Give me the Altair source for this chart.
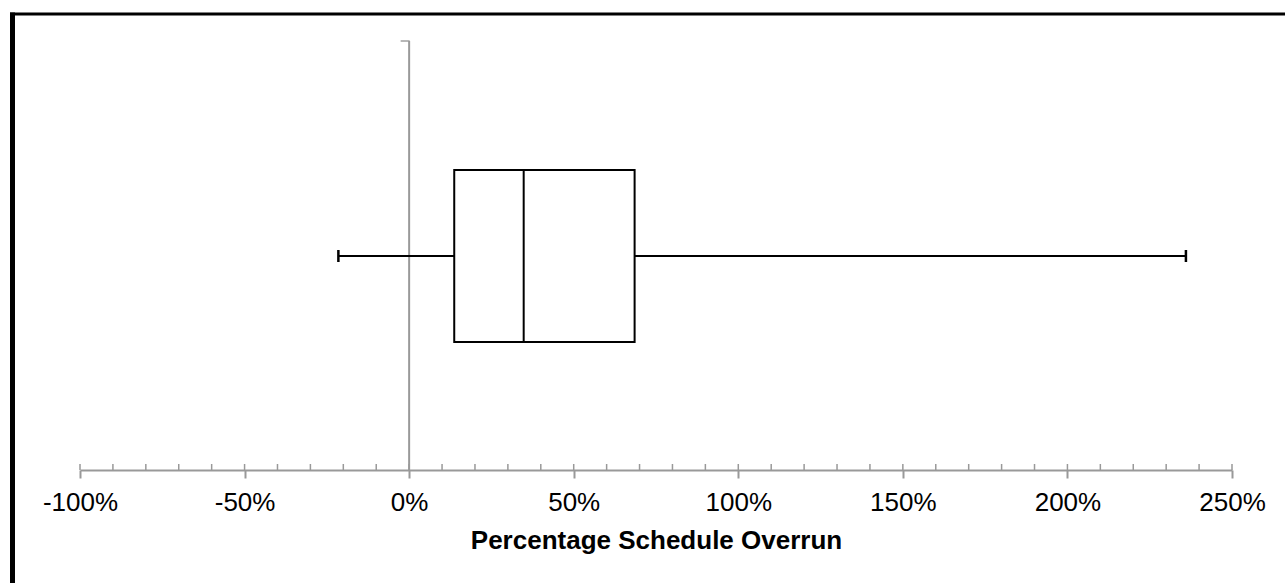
import altair as alt
import pandas as pd

# Box-plot statistics (fractions of schedule overrun)
whisker_low = [-0.215]
q1 = [0.137]
median = [0.348]
q3 = [0.685]
whisker_high = [2.36]

major_ticks = [-1.0, -0.5, 0.0, 0.5, 1.0, 1.5, 2.0, 2.5]
minor_ticks = [v / 100 for v in range(-100, 260, 10)]

stats = pd.DataFrame({"wlo": whisker_low, "q1": q1, "med": median, "q3": q3, "whi": whisker_high})
ticks_df = pd.DataFrame({"t": minor_ticks})

W, H = 1152, 429
GREY = "#999999"

xscale = alt.Scale(domain=[-1.0, 2.5], nice=False, zero=False)
xaxis = alt.Axis(
    values=major_ticks,
    labelExpr="round(datum.value*100) + '%'",
    labelFlush=False,
    labelOverlap=False,
    title="Percentage Schedule Overrun",
    grid=False,
    domainColor=GREY, domainWidth=2,
    tickColor=GREY, tickWidth=2, tickSize=8,
    labelFont="Liberation Sans", labelFontSize=26, labelColor="black", labelPadding=11,
    titleFont="Liberation Sans", titleFontSize=26, titleFontWeight="bold", titleColor="black",
    titlePadding=12,
)

base = alt.Chart(stats)

# vertical zero line (y axis)
zero_line = base.mark_rule(color=GREY, strokeWidth=2).encode(
    x=alt.X("z:Q", scale=xscale, axis=xaxis), y=alt.value(0), y2=alt.value(H)
).transform_calculate(z="0")
zero_tick = base.mark_tick(orient="horizontal", size=9, thickness=2, color=GREY, xOffset=-4).encode(
    x=alt.X("z:Q"), y=alt.value(0)
).transform_calculate(z="0")

minor = alt.Chart(ticks_df).mark_rule(color=GREY, strokeWidth=1.5).encode(
    x=alt.X("t:Q"), y=alt.value(H - 6), y2=alt.value(H)
)

whisk_l = base.mark_rule(color="black", strokeWidth=2).encode(x="wlo:Q", x2="q1:Q", y=alt.value(215))
whisk_r = base.mark_rule(color="black", strokeWidth=2).encode(x="q3:Q", x2="whi:Q", y=alt.value(215))
cap_l = base.mark_rule(color="black", strokeWidth=2.5).encode(x="wlo:Q", y=alt.value(209), y2=alt.value(221))
cap_r = base.mark_rule(color="black", strokeWidth=2.5).encode(x="whi:Q", y=alt.value(209), y2=alt.value(221))
box = base.mark_rect(fill="white", stroke="black", strokeWidth=2).encode(
    x="q1:Q", x2="q3:Q", y=alt.value(129), y2=alt.value(301)
)
med = base.mark_rule(color="black", strokeWidth=2).encode(x="med:Q", y=alt.value(129), y2=alt.value(301))

# outer frame (top and left edges)
frame_top = base.mark_rule(color="black", strokeWidth=3).encode(
    x=alt.value(-70), x2=alt.value(W + 60), y=alt.value(-27)
)
frame_left = base.mark_rule(color="black", strokeWidth=5).encode(
    x=alt.value(-67.5), y=alt.value(-28.5), y2=alt.value(H + 120)
)

chart = alt.layer(
    zero_line, zero_tick, minor, whisk_l, whisk_r, cap_l, cap_r, box, med, frame_top, frame_left
).properties(
    width=W, height=H,
    autosize=alt.AutoSizeParams(type="none"),
    padding={"left": 80, "top": 41, "right": 53, "bottom": 113},
    background="white",
).configure_view(stroke=None)

chart.save("out.html", embed_options={"renderer": "svg", "actions": False})
